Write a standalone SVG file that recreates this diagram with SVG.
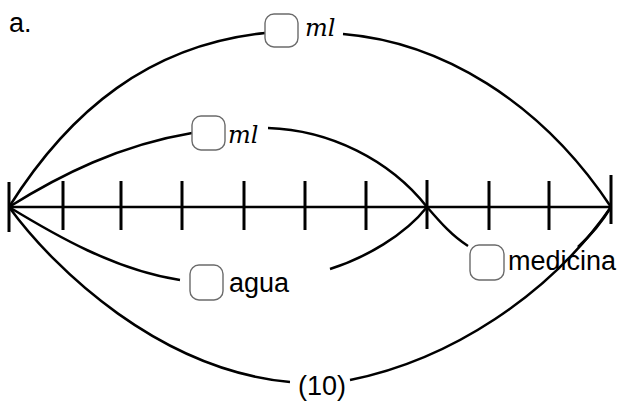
<svg xmlns="http://www.w3.org/2000/svg" width="622" height="401" viewBox="0 0 622 401">
<style>
.arc{fill:none;stroke:#000;stroke-width:2.5;stroke-linecap:butt}
.tick{stroke:#000;stroke-width:3}
.axis{stroke:#000;stroke-width:2.5}
.box{fill:#fff;stroke:#6b6b6b;stroke-width:1.4}
.lbl{font-family:"Liberation Sans",Arial,sans-serif;font-size:27px;fill:#000}
.ml{font-family:"DejaVu Serif",serif;font-style:italic;font-size:24px;fill:#000}
</style>
<rect width="622" height="401" fill="#fff"/>
<text class="lbl" x="9" y="32">a.</text>
<g id="axis">
<line class="axis" x1="9" y1="207" x2="611" y2="207"/>
<line class="tick" x1="9" y1="182" x2="9" y2="232"/>
<line class="tick" x1="63" y1="181" x2="63" y2="230"/>
<line class="tick" x1="121" y1="181" x2="121" y2="230"/>
<line class="tick" x1="182" y1="181" x2="182" y2="230"/>
<line class="tick" x1="244" y1="181" x2="244" y2="230"/>
<line class="tick" x1="305" y1="181" x2="305" y2="230"/>
<line class="tick" x1="366" y1="181" x2="366" y2="230"/>
<line class="tick" x1="427" y1="180" x2="427" y2="229"/>
<line class="tick" x1="489" y1="181" x2="489" y2="230"/>
<line class="tick" x1="549" y1="181" x2="549" y2="230"/>
<line class="tick" x1="611" y1="175" x2="611" y2="224"/>
</g>
<g id="connectors">
<path class="arc" d="M9,207 C70,110 150,45 265,33"/>
<path class="arc" d="M343,34 C440,42 540,100 611,207"/>
<path class="arc" d="M9,207 C60,175 120,145 192,133"/>
<path class="arc" d="M268,128 C330,130 390,160 427,207"/>
<path class="arc" d="M9,207 C55,235 115,270 180,280"/>
<path class="arc" d="M330,269 C365,258 405,235 427,207"/>
<path class="arc" d="M427,207 C440,222 452,236 468,246"/>
<path class="arc" d="M578,247 C590,236 602,222 611,207"/>
<path class="arc" d="M9,207 C55,270 160,370 290,382"/>
<path class="arc" d="M350,380 C450,360 550,295 611,207"/>
</g>
<g id="label-total-ml">
<rect class="box" x="265" y="14" width="33" height="33" rx="9"/>
<text class="ml" x="305" y="36">ml</text>
</g>
<g id="label-part-ml">
<rect class="box" x="192" y="116" width="33" height="34" rx="9"/>
<text class="ml" x="228" y="143">ml</text>
</g>
<g id="label-agua">
<rect class="box" x="190" y="265" width="33" height="35" rx="9"/>
<text class="lbl" x="229" y="292">agua</text>
</g>
<g id="label-medicina">
<rect class="box" x="470" y="245" width="34" height="35" rx="9"/>
<text class="lbl" x="508" y="270">medicina</text>
</g>
<g id="label-total">
<text class="lbl" x="298" y="395">(10)</text>
</g>
</svg>
